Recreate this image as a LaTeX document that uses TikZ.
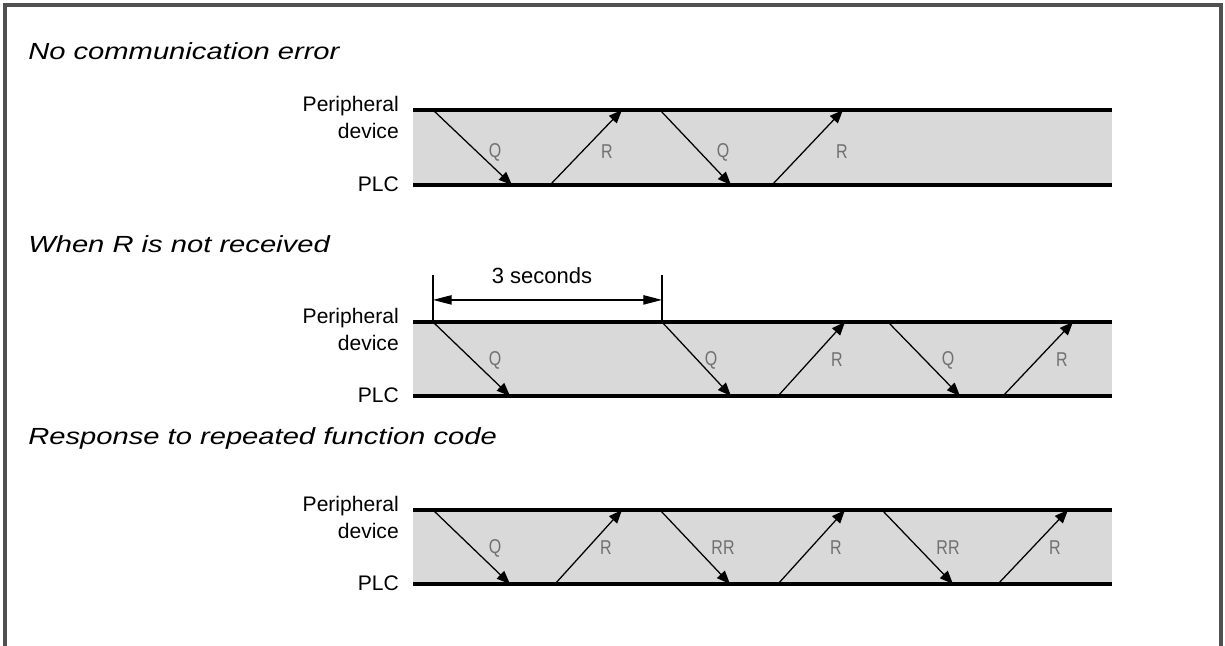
\documentclass[tikz,border=0pt]{standalone}
\usepackage{fontspec}
\setmainfont{Liberation Sans}
\newfontfamily\headfont[FakeStretch=1.25]{Liberation Sans}
\newfontfamily\tagfont[FakeStretch=0.8]{Liberation Sans}
\usetikzlibrary{arrows.meta,calc}
\definecolor{LaneGray}{HTML}{D9D9D9}
\definecolor{FrameGray}{HTML}{505050}
\definecolor{TagGray}{HTML}{707070}

\begin{document}
\begin{tikzpicture}[x=.75pt,y=-.75pt,
  rail/.style={line width=2.5pt},
  msg/.style={line width=.95pt,-{Triangle[length=10pt,width=8pt]}},
  tag/.style={font=\tagfont\fontsize{15}{16}\selectfont,text=TagGray,inner sep=0pt},
  side/.style={font=\fontsize{15.8}{18}\selectfont,anchor=base east,inner sep=0pt},
  head/.style={font=\headfont\itshape\fontsize{17.5}{20}\selectfont,anchor=base west,inner sep=0pt}]
\useasboundingbox (0,0) rectangle (1225,646);
\draw[FrameGray,line width=2.6pt] (5,646) -- (5,5) -- (1221,5) -- (1221,646);
% section titles
\node[head] (h1) at (28,60) {No communication error};
\node[head] (h2) at (28,252) {When R is not received};
\node[head] (h3) at (28,444) {Response to repeated function code};
% lanes: peripheral device above, PLC below
\foreach \t/\b/\nm in {110/185/a,322/396/b,510/584/c}{
  \fill[LaneGray] (413,\t) rectangle (1112,\b);
  \draw[rail] (413,\t) -- (1112,\t);
  \draw[rail] (413,\b) -- (1112,\b);
  \node[side] (per\nm) at (399,\t+1) {Peripheral};
  \node[side] (dev\nm) at (399,\t+28) {device};
  \node[side] (plc\nm) at (399,\b+6) {PLC};
}
% messages
\foreach [count=\i] \xa/\ya/\xb/\yb in {433/110/512/185,550/185/622/110,660/110/731/185,772/185/843/110,
  433/322/510/396,662/322/731/396,778/396/845/322,888/322/960/396,1003/396/1073/322,
  433/510/510/584,555/584/622/510,660/510/730/584,778/584/845/510,882/510/953/584,998/584/1068/510}{
  \coordinate (s\i) at (\xa,\ya);
  \coordinate (e\i) at (\xb,\yb);
  \draw[msg] (s\i) -- (e\i);
}
\foreach [count=\i] \x/\y/\txt in {495/152/Q,607/152/R,723/152/Q,842/152/R,
  495/360/Q,711/360/Q,837/360/R,948/360/Q,1062/360/R,
  495/548/Q,606/548/R,723/548/RR,836/548/R,948/548/RR,1055/548/R}{
  \node[tag] (t\i) at (\x,\y) {\txt};
}
% time-out of 3 seconds
\coordinate (w1) at (433,275);
\coordinate (w2) at (662,275);
\draw[line width=1.2pt] (w1) -- (s5);
\draw[line width=1.2pt] (w2) -- (s6);
\draw[line width=.9pt,{Triangle[length=14pt,width=7pt]}-{Triangle[length=14pt,width=7pt]}] ($(w1)!.53!(s5)$) -- ($(w2)!.53!(s6)$);
\node[font=\fontsize{16.5}{18}\selectfont,inner sep=0pt] (secs) at (542,276) {3 seconds};
\end{tikzpicture}
\end{document}
